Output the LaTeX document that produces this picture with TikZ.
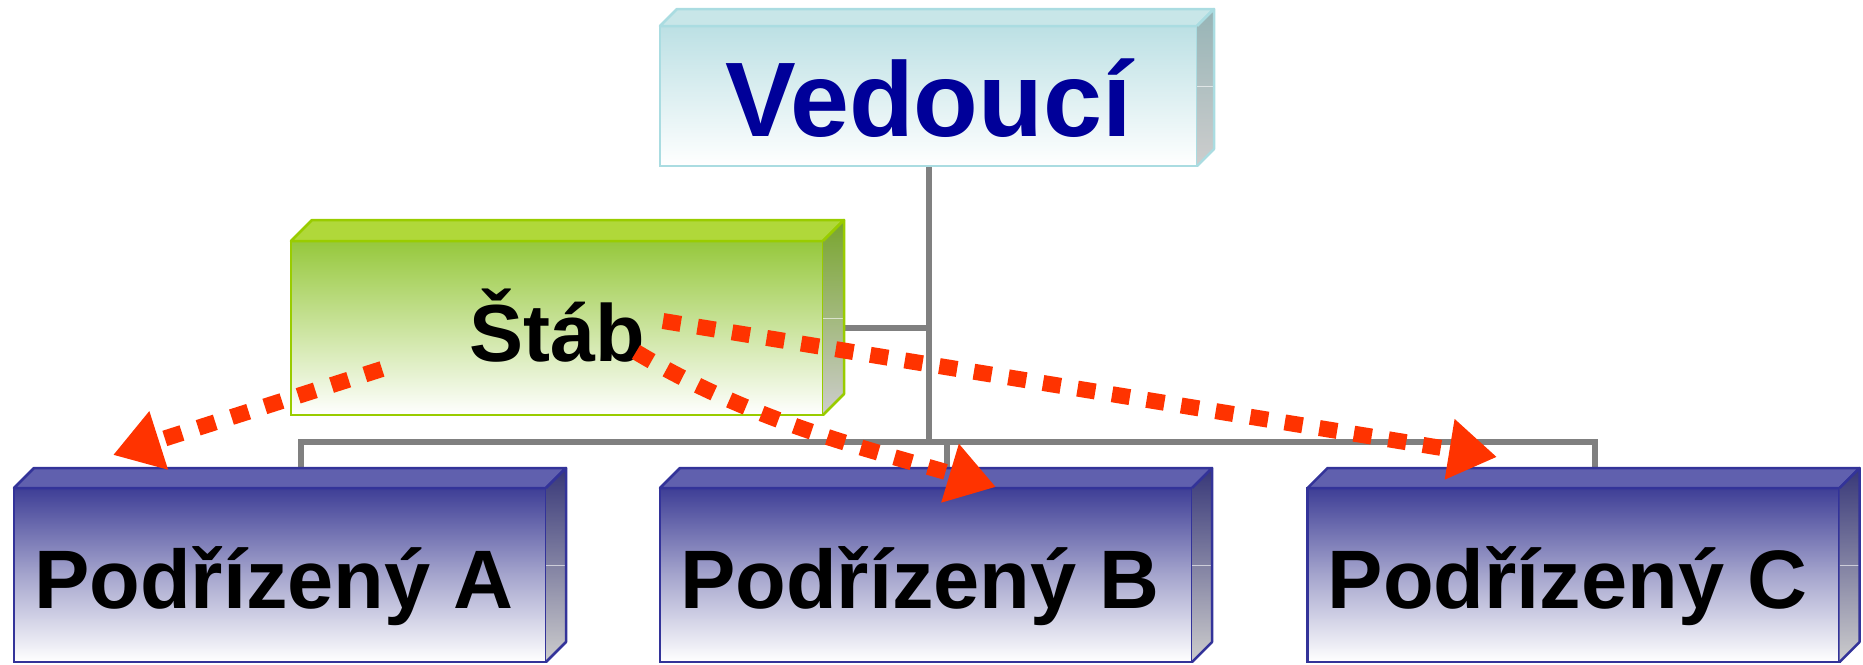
\documentclass[tikz,border=0pt]{standalone}
\usepackage{fontspec}
\setmainfont{Liberation Sans}
\usetikzlibrary{arrows.meta,calc,backgrounds}
\definecolor{vedfront}{RGB}{188,224,228}
\definecolor{vedtopf}{RGB}{200,230,232}
\definecolor{vedside}{RGB}{150,180,182}
\definecolor{vedborder}{RGB}{170,220,225}
\definecolor{vedtext}{RGB}{0,0,153}
\definecolor{stabfront}{RGB}{150,200,60}
\definecolor{stabtopf}{RGB}{176,216,58}
\definecolor{stabside}{RGB}{120,165,45}
\definecolor{stabborder}{RGB}{153,204,0}
\definecolor{subfront}{RGB}{62,62,150}
\definecolor{submid}{RGB}{165,165,205}
\definecolor{subtopf}{RGB}{96,96,174}
\definecolor{subside}{RGB}{55,55,120}
\definecolor{subborder}{RGB}{51,51,153}
\definecolor{sidebottom}{RGB}{205,205,205}
\definecolor{conngray}{RGB}{128,128,128}
\definecolor{redc}{RGB}{255,51,0}
\newcommand{\cubefaces}[6]{%
  \filldraw[fill=#3, draw=#6, line width=2.5pt, line join=round]
    (#1.north west) -- ++(#2,-#2) -- ($(#1.north east)+(#2,-#2)$) -- (#1.north east) -- cycle;
  \shade[top color=#4, bottom color=#5]
    (#1.north east) -- ++(#2,-#2) -- ($(#1.south east)+(#2,-#2)$) -- (#1.south east) -- cycle;
  \draw[white, opacity=0.6, line width=1pt]
    ($(#1.east)+(0,-10)$) -- ++(#2,0);
  \draw[#6, line width=2.5pt, line join=round]
    (#1.north east) -- ++(#2,-#2) -- ($(#1.south east)+(#2,-#2)$) -- (#1.south east);
}
\begin{document}
\begin{tikzpicture}[x=1pt,y=-1pt,
  face/.style={draw, line width=2.5pt, inner sep=0pt, outer sep=0pt, align=center,
    text depth=0pt},
  vedface/.style={face, draw=vedborder, top color=vedfront, bottom color=white,
    minimum width=537pt, minimum height=140pt, text=vedtext, text height=81pt,
    font=\bfseries\fontsize{106}{106}\selectfont},
  stabface/.style={face, draw=stabborder, top color=stabfront, bottom color=white,
    minimum width=532pt, minimum height=174pt, text=black, text height=66pt,
    font=\bfseries\fontsize{81}{81}\selectfont},
  subface/.style={face, draw=subborder, top color=subfront, bottom color=white,
    middle color=submid,
    minimum width=532pt, minimum height=174pt, text=black, text height=66pt,
    font=\bfseries\fontsize{83}{83}\selectfont},
  subtext/.style={inner sep=0pt, outer sep=0pt, anchor=base,
    font=\bfseries\fontsize{83}{83}\selectfont},
  conn/.style={draw=conngray, line width=6pt},
  redarrow/.style={draw=redc, line width=16pt, line cap=butt,
    dash pattern=on 18pt off 17pt,
    -{Triangle[length=48pt,width=58pt]}}
]
\useasboundingbox (0,0) rectangle (1863,664);

% boxes (front faces)
\node[vedface] (V) at (928.5,96) {Vedoucí};
\node[stabface] (S) at (557,328) {Štáb};
\node[subface] (A) at (280,575) {};
\node[subface] (B) at (926,575) {};
\node[subface] (C) at (1573.5,575) {};
\node[subtext] (Atext) at (274,608) {Podřízený A};
\node[subtext] (Btext) at (920,608) {Podřízený B};
\node[subtext] (Ctext) at (1567.5,608) {Podřízený C};

% depth faces
\cubefaces{V}{17}{vedtopf}{vedside}{sidebottom}{vedborder}
\cubefaces{S}{21}{stabtopf}{stabside}{sidebottom}{stabborder}
\cubefaces{A}{20}{subtopf}{subside}{sidebottom}{subborder}
\cubefaces{B}{20}{subtopf}{subside}{sidebottom}{subborder}
\cubefaces{C}{20}{subtopf}{subside}{sidebottom}{subborder}

% organisation lines (behind boxes)
\coordinate (busA) at ($(A.north)+(21,-46)$);
\coordinate (busB) at ($(B.north)+(21,-46)$);
\coordinate (busC) at ($(C.north)+(21,-46)$);
\coordinate (topA) at ($(A.north)+(21,-20)$);
\coordinate (topB) at ($(B.north)+(21,-20)$);
\coordinate (topC) at ($(C.north)+(21,-20)$);
\begin{pgfonlayer}{background}
  \draw[conn] (V.south) -- (V.south |- busA);
  \draw[conn] (S.east) -- (S.east -| V.south);
  \draw[conn] (topA) -- (busA) -- (busC) -- (topC);
  \draw[conn] (busB) -- (topB);
\end{pgfonlayer}

% staff influence arrows
\coordinate (sA) at (382,369);
\coordinate (tA) at (113,455);
\coordinate (sB) at (636,352);
\coordinate (tB) at (996,487);
\coordinate (sC) at (663,321);
\coordinate (tC) at (1497,457);
\draw[redarrow] (sA) -- (tA);
\draw[redarrow] (sB) .. controls (756,424) and (876,451) .. (tB);
\draw[redarrow] (sC) -- (tC);
\end{tikzpicture}
\end{document}
